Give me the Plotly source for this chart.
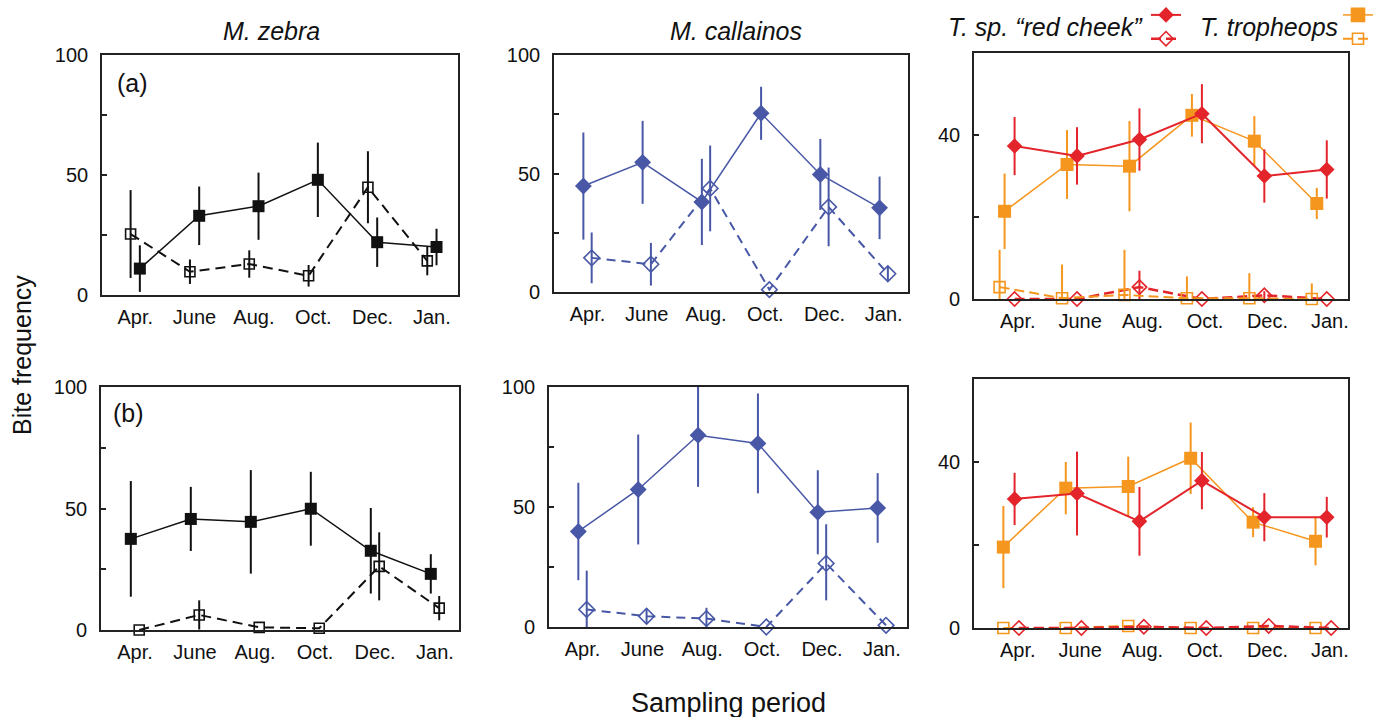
import plotly.graph_objects as go

# ---------------- data ----------------
months = ["Apr.", "June", "Aug.", "Oct.", "Dec.", "Jan."]

# (a) M. zebra
zebra_a_solid = [11, 33, 37, 48, 22, 20]
zebra_a_solid_err = [9.7, 12.2, 14, 15.5, 10.3, 7.6]
zebra_a_open = [25.4, 9.7, 12.9, 8.0, 44.9, 14.2]
zebra_a_open_err = [18.3, 5.1, 5.7, 4.5, 15, 6]
# (a) M. callainos
call_a_solid = [44.7, 54.7, 38.0, 75.4, 49.6, 35.5]
call_a_solid_err = [22.6, 17.5, 18.2, 11.2, 15, 13.2]
call_a_open = [14.4, 11.7, 43.7, 1.0, 35.9, 7.7]
call_a_open_err = [10.7, 9, 18.1, 0, 16.6, 2.9]
# (a) T. sp. "red cheek" / T. tropheops
red_a_solid = [37.3, 34.9, 38.9, 45.2, 30.0, 31.6]
red_a_solid_err = [7.1, 7.0, 7.6, 7.2, 6.5, 7.1]
red_a_open = [0, 0, 2.9, 0, 0.9, 0]
red_a_open_err = [0, 0, 4, 0, 1, 0]
org_a_solid = [21.4, 32.8, 32.4, 44.8, 38.5, 23.3]
org_a_solid_err = [9.2, 8.4, 11, 5.2, 6.1, 3.8]
org_a_open = [2.9, 0.2, 1.0, 0.2, 0.2, 0]
org_a_open_err_up = [9.1, 8.2, 11, 5.3, 6.1, 3.8]
org_a_open_err_down = [2.9, 0.2, 1.0, 0.2, 0.2, 0]

# (b) M. zebra
zebra_b_solid = [37.5, 45.7, 44.5, 49.9, 32.6, 23.1]
zebra_b_solid_err = [23.8, 13.2, 21.3, 15.2, 17.6, 8.1]
zebra_b_open = [0, 6.2, 1.1, 0.7, 26.2, 9.0]
zebra_b_open_err = [0, 6, 0, 0, 14, 5]
# (b) M. callainos
call_b_solid = [39.8, 57.3, 79.9, 76.5, 47.8, 49.6]
call_b_solid_err = [20.3, 22.9, 21.5, 20.8, 17.5, 14.5]
call_b_open = [7.3, 4.5, 3.5, 0, 26.5, 0.7]
call_b_open_err_up = [16.2, 3.2, 4.5, 0, 16.3, 0]
call_b_open_err_down = [9.4, 3.1, 4.6, 0, 15.4, 0]
# (b) T. sp. "red cheek" / T. tropheops
red_b_solid = [31.1, 32.4, 25.7, 35.5, 26.7, 26.7]
red_b_solid_err = [6.3, 10.1, 8.3, 6.9, 5.8, 4.9]
red_b_open = [0, 0, 0.3, 0, 0.5, 0]
org_b_solid = [19.5, 33.7, 34.1, 40.9, 25.5, 20.9]
org_b_solid_err = [9.9, 6.3, 7.2, 8.6, 3.6, 5.8]
org_b_open = [0, 0, 0.5, 0, 0, 0]

# ---------------- styling ----------------
W, H = 1380, 717
FONT = "Liberation Sans, Arial, Helvetica, sans-serif"
BLACK = "#111111"
BLUE = "#4858a6"
RED = "#e3242b"
ORANGE = "#f5961e"
AXC = "#222222"

fig = go.Figure()


def series(ax, y, err, color, symbol, size, dash, lw, off, errm=None,
           open_=False, legend=None):
    xs = [i + off for i in range(len(months))]
    e = dict(type="data", array=err, color=color, thickness=2, width=0, visible=True)
    if errm is not None:
        e["symmetric"] = False
        e["arrayminus"] = errm
    marker = dict(symbol=symbol, size=size, color=color)
    if open_:
        marker["line"] = dict(width=1.6, color=color)
    suffix = "" if ax == 1 else str(ax)
    fig.add_trace(go.Scatter(
        x=xs, y=y, mode="lines+markers",
        line=dict(color=color, width=lw, dash=dash),
        marker=marker, error_y=e,
        xaxis="x" + suffix, yaxis="y" + suffix,
        cliponaxis=False,
        showlegend=legend is not None,
        legend=legend if legend else "legend",
        name=" ",
        hoverinfo="x+y",
    ))


# Panel 1 : (a) M. zebra
series(1, zebra_a_open, zebra_a_open_err, BLACK, "square-open", 10, "10px,6px", 2, -0.078, open_=True)
series(1, zebra_a_solid, zebra_a_solid_err, BLACK, "square", 12, "solid", 1.5, 0.078)
# Panel 2 : (a) M. callainos
series(2, call_a_open, call_a_open_err, BLUE, "diamond-open", 12, "9px,6px", 2, 0.07, open_=True)
series(2, call_a_solid, call_a_solid_err, BLUE, "diamond", 13, "solid", 1.5, -0.07)
# Panel 3 : (a) Tropheops
series(3, org_a_solid, org_a_solid_err, ORANGE, "square", 13, "solid", 1.5, -0.21)
series(3, red_a_solid, red_a_solid_err, RED, "diamond", 12, "solid", 2, -0.05, legend="legend")
series(3, red_a_open, red_a_open_err, RED, "diamond-open", 11, "10px,5px", 2.5, -0.05, open_=True, legend="legend")
series(3, org_a_open, org_a_open_err_up, ORANGE, "square-open", 11, "10px,5px", 2, -0.29,
       errm=org_a_open_err_down, open_=True)
# Panel 4 : (b) M. zebra
series(4, zebra_b_open, zebra_b_open_err, BLACK, "square-open", 10, "10px,6px", 2, 0.07, open_=True)
series(4, zebra_b_solid, zebra_b_solid_err, BLACK, "square", 12, "solid", 1.5, -0.07)
# Panel 5 : (b) M. callainos
series(5, call_b_open, call_b_open_err_up, BLUE, "diamond-open", 12, "9px,6px", 2, 0.07,
       errm=call_b_open_err_down, open_=True)
series(5, call_b_solid, call_b_solid_err, BLUE, "diamond", 13, "solid", 1.5, -0.07)
# Panel 6 : (b) Tropheops
series(6, org_b_solid, org_b_solid_err, ORANGE, "square", 13, "solid", 1.5, -0.23)
series(6, red_b_solid, red_b_solid_err, RED, "diamond", 12, "solid", 2, -0.05)
series(6, org_b_open, [0] * 6, ORANGE, "square-open", 11, "10px,5px", 2, -0.23, open_=True)
series(6, red_b_open, [0] * 6, RED, "diamond-open", 11, "10px,5px", 2.5, 0.02, open_=True)

# Legend-only entries for T. tropheops (drawn through the second legend)
for sym, dash, lw, size in [("square", "solid", 1.5, 13), ("square-open", "10px,5px", 2, 11)]:
    fig.add_trace(go.Scatter(
        x=[None], y=[None], mode="lines+markers",
        line=dict(color=ORANGE, width=lw, dash=dash),
        marker=dict(symbol=sym, size=size, color=ORANGE, line=dict(width=1.6, color=ORANGE)),
        xaxis="x3", yaxis="y3", showlegend=True, legend="legend2", name=" ",
    ))


# ---------------- axes ----------------
def dx(a, b):
    return [a / W, b / W]


def dy(top, bottom):
    return [1 - bottom / H, 1 - top / H]


panels = {
    1: dict(x=(102, 458), y=(55, 295), xr=[-0.56, 5.44], yr=[0, 100]),
    2: dict(x=(554, 908), y=(55, 292), xr=[-0.566, 5.41], yr=[0, 100]),
    3: dict(x=(974, 1348), y=(53, 299), xr=[-0.70, 5.29], yr=[0, 60]),
    4: dict(x=(101, 459), y=(387, 630), xr=[-0.567, 5.4], yr=[0, 100]),
    5: dict(x=(549, 907), y=(387, 627), xr=[-0.56, 5.42], yr=[0, 100]),
    6: dict(x=(974, 1348), y=(379, 628), xr=[-0.70, 5.29], yr=[0, 60]),
}

for k, p in panels.items():
    s = "" if k == 1 else str(k)
    if p["yr"][1] == 100:
        tv, tt = [0, 25, 50, 75, 100], ["0", "", "50", "", "100"]
    else:
        tv, tt = [0, 20, 40, 60], ["0", "", "40", ""]
    fig.update_layout(**{
        "xaxis" + s: dict(
            domain=dx(*p["x"]), range=p["xr"], anchor="y" + s,
            tickvals=list(range(len(months))), ticktext=months,
            ticks="", showgrid=False, zeroline=False,
            showline=True, mirror=True, linecolor=AXC, linewidth=1.6,
            tickfont=dict(family=FONT, size=20, color="#111"),
            ticklabelstandoff=3, fixedrange=True,
        ),
        "yaxis" + s: dict(
            domain=dy(*p["y"]), range=p["yr"], anchor="x" + s,
            tickvals=tv, ticktext=tt,
            ticks="inside", ticklen=5, tickwidth=1.5, tickcolor=AXC,
            showgrid=False, zeroline=False,
            showline=True, mirror=True, linecolor=AXC, linewidth=1.6,
            tickfont=dict(family=FONT, size=20, color="#111"),
            ticklabelstandoff=8, fixedrange=True,
        ),
    })


def ann(xp, yp, text, size, xanchor="center", angle=0):
    fig.add_annotation(
        x=xp / W, y=1 - yp / H, xref="paper", yref="paper",
        text=text, showarrow=False, xanchor=xanchor, yanchor="middle",
        textangle=angle, font=dict(family=FONT, size=size, color="#111"),
    )


ann(271, 31, "<i>M. zebra</i>", 25)
ann(736, 31, "<i>M. callainos</i>", 25)
ann(1145, 27, "<i>T. sp. “red cheek”</i>", 25, xanchor="right")
ann(1340, 27, "<i>T. tropheops</i>", 25, xanchor="right")
ann(132, 83, "(a)", 25)
ann(128, 413, "(b)", 25)
ann(22, 355, "Bite frequency", 25, angle=-90)
ann(728, 703, "Sampling period", 27)

legend_style = dict(
    bgcolor="rgba(0,0,0,0)", borderwidth=0, font=dict(family=FONT, size=16),
    orientation="v", xanchor="left", yanchor="top", tracegroupgap=0,
    itemwidth=30, traceorder="normal",
)
fig.update_layout(
    width=W, height=H, autosize=False,
    margin=dict(l=0, r=0, t=0, b=0, pad=0, autoexpand=False),
    paper_bgcolor="white", plot_bgcolor="white",
    font=dict(family=FONT, color="#111"),
    legend=dict(x=1146 / W, y=1 + 2 / H, **legend_style),
    legend2=dict(x=1338 / W, y=1 + 2 / H, **legend_style),
)

fig.write_html("out.html")
